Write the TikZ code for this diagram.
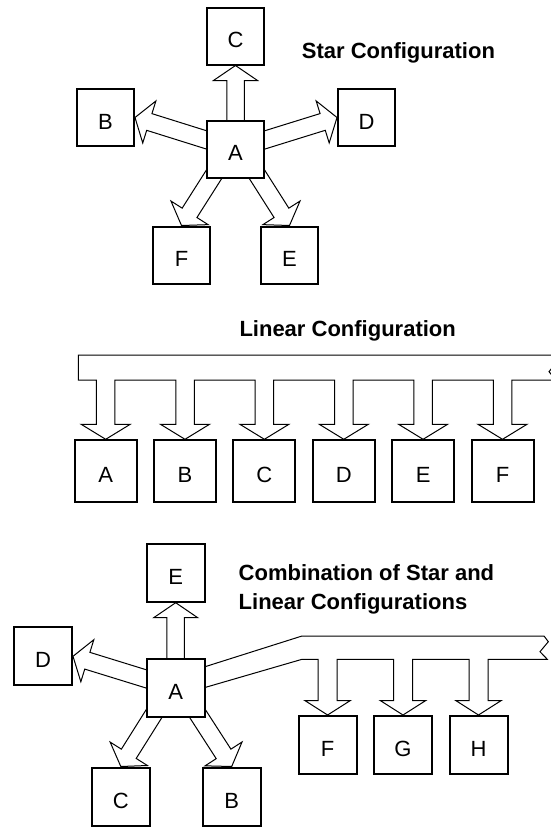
\documentclass[tikz,border=0pt]{standalone}
\usepackage{fontspec}
\setmainfont{Liberation Sans}
\usetikzlibrary{calc,backgrounds}

\tikzset{
  box/.style={draw, line width=2pt, fill=white, inner sep=0pt, text height=23pt, text depth=0pt, font=\fontsize{22}{26}\selectfont},
  fat/.style={draw, line width=1pt, fill=white, line join=miter},
  title/.style={anchor=base west, inner sep=0pt, align=left, font=\bfseries\fontsize{22}{29}\selectfont}
}

% hollow block arrow from #1 to #2
\newcommand{\fatarrow}[2]{%
  \coordinate (fa-n) at ($(#2)!15pt!(#1)$);
  \path[fat] ($(#1)!8.75pt!90:(#2)$) -- ($(fa-n)!8.75pt!90:(#2)$) -- ($(fa-n)!22pt!90:(#2)$) -- (#2)
    -- ($(fa-n)!22pt!-90:(#2)$) -- ($(fa-n)!8.75pt!-90:(#2)$) -- ($(#1)!8.75pt!-90:(#2)$) -- cycle;}

\begin{document}
\begin{tikzpicture}[x=1pt, y=-1pt]
  \useasboundingbox (0,0) rectangle (550,827);

  % Star configuration
  \node[box, minimum size=57pt] (sA) at (235.5,149) {A};
  \node[box, minimum size=57pt] (sC) at (235.5,36) {C};
  \node[box, minimum size=57pt] (sB) at (105.5,117.5) {B};
  \node[box, minimum size=57pt] (sD) at (366.5,117.5) {D};
  \node[box, minimum size=57pt] (sF) at (181.5,255) {F};
  \node[box, minimum size=57pt] (sE) at (289.5,255) {E};
  \node[title] (title1) at (301.7,58.3) {Star Configuration};

  % Linear configuration
  \node[box, minimum size=62pt] (lA) at (105.7,471.3) {A};
  \node[box, minimum size=62pt] (lB) at (185,471.3) {B};
  \node[box, minimum size=62pt] (lC) at (264.4,471.3) {C};
  \node[box, minimum size=62pt] (lD) at (343.8,471.3) {D};
  \node[box, minimum size=62pt] (lE) at (423.1,471.3) {E};
  \node[box, minimum size=62pt] (lF) at (502.5,471.3) {F};
  \node[title] (title2) at (239.3,336) {Linear Configuration};

  % Combination
  \node[box, minimum size=58pt] (cA) at (175.7,688) {A};
  \node[box, minimum size=58pt] (cE) at (175.7,572.7) {E};
  \node[box, minimum size=58pt] (cD) at (43,656.3) {D};
  \node[box, minimum size=58pt] (cC) at (120.8,796.5) {C};
  \node[box, minimum size=58pt] (cB) at (231.7,796.5) {B};
  \node[box, minimum size=58pt] (cF) at (327.6,745) {F};
  \node[box, minimum size=58pt] (cG) at (403,745) {G};
  \node[box, minimum size=58pt] (cH) at (478.5,745) {H};
  \node[title] (title3) at (238.5,609) {Combination of Star and\\Linear Configurations};

  \coordinate (sAsw) at ($(sA.center)!0.5!(sA.south west)$);
  \coordinate (sAse) at ($(sA.center)!0.5!(sA.south east)$);
  \coordinate (cAsw) at ($(cA.center)!0.5!(cA.south west)$);
  \coordinate (cAse) at ($(cA.center)!0.5!(cA.south east)$);
  \coordinate (lbus) at (0,380);
  \coordinate (cbus) at (0,659.3);

  \begin{scope}[on background layer]
    % star arrows
    \fatarrow{sA.center}{sC.south}
    \fatarrow{sA.center}{sB.east}
    \fatarrow{sA.center}{sD.west}
    \fatarrow{sAsw}{sF.north}
    \fatarrow{sAse}{sE.north}

    % linear bus
    \path[fat] (556,380)
      \foreach \n in {lF,lE,lD,lC,lB,lA}{
        -- ($(\n.north |- lbus)+(9.25,0)$) -- ($(\n.north)+(9.25,-15)$) -- ($(\n.north)+(24.5,-15)$) -- (\n.north)
        -- ($(\n.north)+(-24.5,-15)$) -- ($(\n.north)+(-9.25,-15)$) -- ($(\n.north |- lbus)+(-9.25,0)$)}
      -- (78.3,380) -- (78.3,355) -- (553,355) -- (557,361.7) -- (549,371.7) -- cycle;

    % combination arrows and bus
    \fatarrow{cA.center}{cE.south}
    \fatarrow{cA.center}{cD.east}
    \fatarrow{cAsw}{cC.north}
    \fatarrow{cAse}{cB.north}
    \path[fat] ($(cA.center)+(0,-12)$) -- (302,636) -- (544,636) -- (548.3,641.7) -- (540,651.7) -- (547.3,659.3)
      \foreach \n in {cH,cG,cF}{
        -- ($(\n.north |- cbus)+(9.5,0)$) -- ($(\n.north)+(9.5,-14.5)$) -- ($(\n.north)+(22.8,-14.5)$) -- (\n.north)
        -- ($(\n.north)+(-22.8,-14.5)$) -- ($(\n.north)+(-9.5,-14.5)$) -- ($(\n.north |- cbus)+(-9.5,0)$)}
      -- (302,659.3) -- ($(cA.center)+(0,8)$) -- cycle;
  \end{scope}
\end{tikzpicture}
\end{document}
